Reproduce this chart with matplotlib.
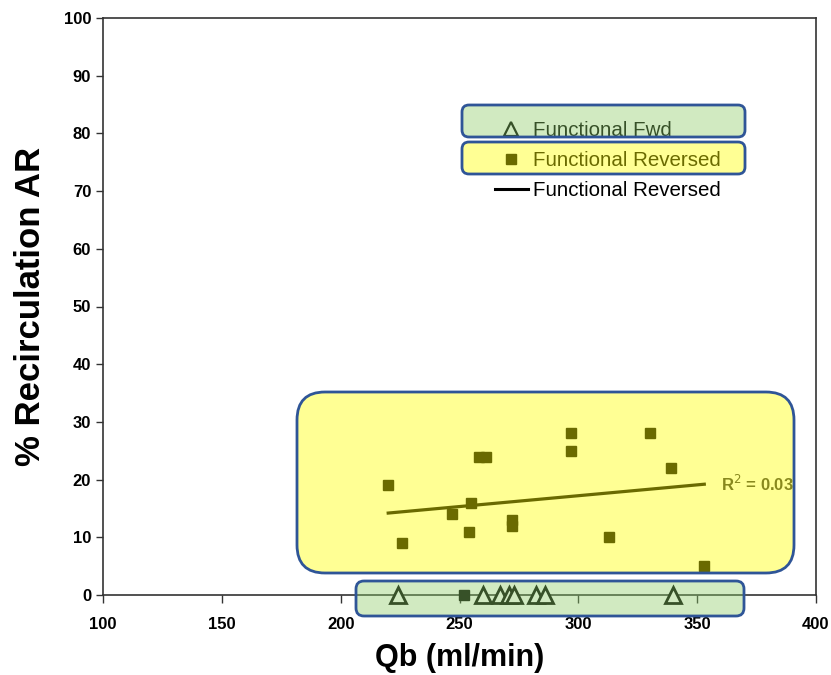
import matplotlib.pyplot as plt
from matplotlib.patches import FancyBboxPatch
from matplotlib.lines import Line2D
from matplotlib.transforms import IdentityTransform

plt.rcParams['font.family'] = ['Liberation Sans', 'DejaVu Sans']

# Functional reversed (squares)
rev_qb = [220, 226, 247, 255, 254, 258, 261, 272, 272, 297, 297, 313, 330, 339, 353, 252]
rev_ar = [19, 9, 14, 16, 11, 24, 24, 13, 12, 28, 25, 10, 28, 22, 5, 0]

# Functional forward (triangles)
fwd_qb = [224, 260, 267, 271, 273, 282, 286, 340]
fwd_ar = [0, 0, 0, 0, 0, 0, 0, 0]

# linear trend of reversed data
trend_qb = [220, 353]
trend_ar = [14.2, 19.2]
r2_text = 'R$^2$ = 0.03'

W, H = 831, 675
fig = plt.figure(figsize=(W / 100, H / 100), dpi=100)
ax = fig.add_axes([103 / W, 1 - 595 / H, (816 - 103) / W, (595 - 18) / H])

ax.plot(fwd_qb, fwd_ar, linestyle='none', marker='^', markersize=11,
        markerfacecolor='white', markeredgecolor='black', markeredgewidth=2,
        clip_on=False, zorder=4)
ax.plot(rev_qb, rev_ar, linestyle='none', marker='s', markersize=7.5,
        color='black', clip_on=False, zorder=5)
ax.plot(trend_qb, trend_ar, color='black', linewidth=2.3, zorder=3)
ax.text(360, 19.3, r2_text, fontsize=12, fontweight='bold', color='#333333',
        ha='left', va='center')

ax.set_xlim(100, 400)
ax.set_ylim(0, 100)
ax.set_xticks(range(100, 401, 50))
ax.set_yticks(range(0, 101, 10))
for lab in ax.get_xticklabels() + ax.get_yticklabels():
    lab.set_fontweight('bold')
ax.tick_params(labelsize=12, length=5, width=1, color='#333333', direction='out')
ax.tick_params(axis='x', pad=10, length=6)
for s in ax.spines.values():
    s.set_color('#333333')
    s.set_linewidth(1.2)

ax.set_xlabel('Qb (ml/min)', fontsize=22, fontweight='bold', labelpad=8)
ax.set_ylabel('% Recirculation AR', fontsize=25, fontweight='bold', labelpad=12)

handles = [
    Line2D([], [], linestyle='none', marker='^', markersize=10, markerfacecolor='white',
           markeredgecolor='black', markeredgewidth=1.6),
    Line2D([], [], linestyle='none', marker='s', markersize=7.5, color='black'),
    Line2D([], [], color='black', linewidth=2.2),
]
labels = ['Functional Fwd', 'Functional Reversed', 'Functional Reversed']
ax.legend(handles, labels, loc='upper left', bbox_to_anchor=(495 / W, 1 - 121 / H),
          bbox_transform=fig.transFigure, frameon=False, fontsize=14.8,
          handlelength=1.6, handletextpad=0.25, labelspacing=0.53, borderpad=0,
          borderaxespad=0)

# highlight boxes drawn on top (pixel coords, image y measured from top)
def box(x0, y0, x1, y1, face, r):
    p = FancyBboxPatch((x0, H - y1), x1 - x0, y1 - y0,
                       boxstyle='round,pad=0,rounding_size=%d' % r,
                       transform=IdentityTransform(), facecolor=face,
                       edgecolor='#2f5597', linewidth=2, zorder=10)
    fig.add_artist(p)

yellow = (1.0, 1.0, 0.0, 0.42)
green = (0.55, 0.80, 0.40, 0.40)
box(462, 105, 745, 137, green, 7)
box(462, 142, 745, 174, yellow, 7)
box(297, 392, 794, 573, yellow, 28)
box(356, 581, 744, 616, green, 8)

fig.savefig('out.png', dpi=100)
